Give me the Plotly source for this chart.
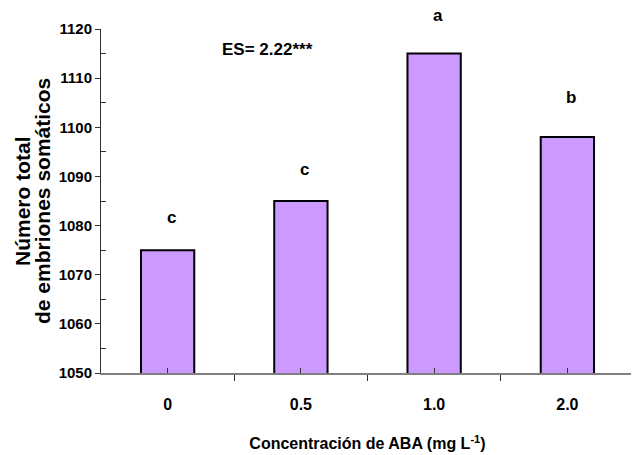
import plotly.graph_objects as go

categories = ["0", "0.5", "1.0", "2.0"]
values = [1075, 1085, 1115, 1098]
letters = ["c", "c", "a", "b"]
letter_y = [1081.6, 1091.5, 1122.7, 1106.0]
y_ticks = [1050, 1060, 1070, 1080, 1090, 1100, 1110, 1120]
y_range = [1050, 1120]

x_pos = list(range(len(categories)))
FONT = "Liberation Sans, Arial, sans-serif"

W, H = 639, 455
M = dict(l=93, r=13, t=21, b=90)
plot_h = H - M["t"] - M["b"]
px_per_unit = plot_h / (y_range[1] - y_range[0])

fig = go.Figure()
fig.add_trace(go.Bar(
    x=x_pos, y=values, width=0.4,
    marker=dict(color="#CC99FF", line=dict(color="black", width=2)),
    showlegend=False, hoverinfo="skip",
))

# significance letters: anchored on bar tops, shifted through the y scale
for xi, v, lt, ly in zip(x_pos, values, letters, letter_y):
    fig.add_annotation(x=xi + 0.03, y=v, yshift=(ly - v) * px_per_unit,
                       text=f"<b>{lt}</b>", showarrow=False,
                       font=dict(family=FONT, size=17, color="black", weight="bold"),
                       xref="x", yref="y", yanchor="middle")

fig.add_annotation(x=0.75, y=1115.8, text="<b>ES= 2.22***</b>", showarrow=False,
                   font=dict(family=FONT, size=17, color="black", weight="bold"),
                   xref="x", yref="y")

# y-axis title (two tight lines)
for txt, xs in [("<b>Número total</b>", -79), ("<b>de embriones somáticos</b>", -59)]:
    fig.add_annotation(x=0, y=0.5, xref="paper", yref="paper", xshift=xs,
                       text=txt, textangle=-90, showarrow=False,
                       xanchor="center", yanchor="middle",
                       font=dict(family=FONT, size=21, color="black", weight="bold"))

fig.update_layout(
    width=W, height=H,
    margin=dict(**M, autoexpand=False),
    plot_bgcolor="white", paper_bgcolor="white",
)

fig.update_xaxes(
    range=[-0.5, 3.5], automargin=False,
    tickmode="array", tickvals=x_pos, ticktext=[f"<b>{c}</b>" for c in categories],
    ticks="inside", ticklen=5, tickcolor="#333", tickwidth=1,
    tickfont=dict(family=FONT, size=16, color="black", weight="bold"),
    ticklabelstandoff=16,
    minor=dict(tick0=0.5, dtick=1, ticks="outside", ticklen=6, tickcolor="#333", tickwidth=1, showgrid=False),
    showline=True, linecolor="#808080", linewidth=2,
    showgrid=False, zeroline=False,
    title=dict(text="<b>Concentración de ABA (mg L<sup>-1</sup>)</b>",
               font=dict(family=FONT, size=16, color="black", weight="bold"), standoff=26),
)

fig.update_yaxes(
    range=y_range, automargin=False,
    tickmode="array", tickvals=y_ticks, ticktext=[f"<b>{v}</b>" for v in y_ticks],
    ticks="outside", ticklen=5, tickcolor="#333", tickwidth=1,
    tickfont=dict(family=FONT, size=15, color="black", weight="bold"),
    minor=dict(tick0=1055, dtick=10, ticks="inside", ticklen=5, tickcolor="#333", tickwidth=1, showgrid=False),
    showline=True, linecolor="#333", linewidth=1,
    showgrid=False, zeroline=False,
)

fig.write_html("out.html")
